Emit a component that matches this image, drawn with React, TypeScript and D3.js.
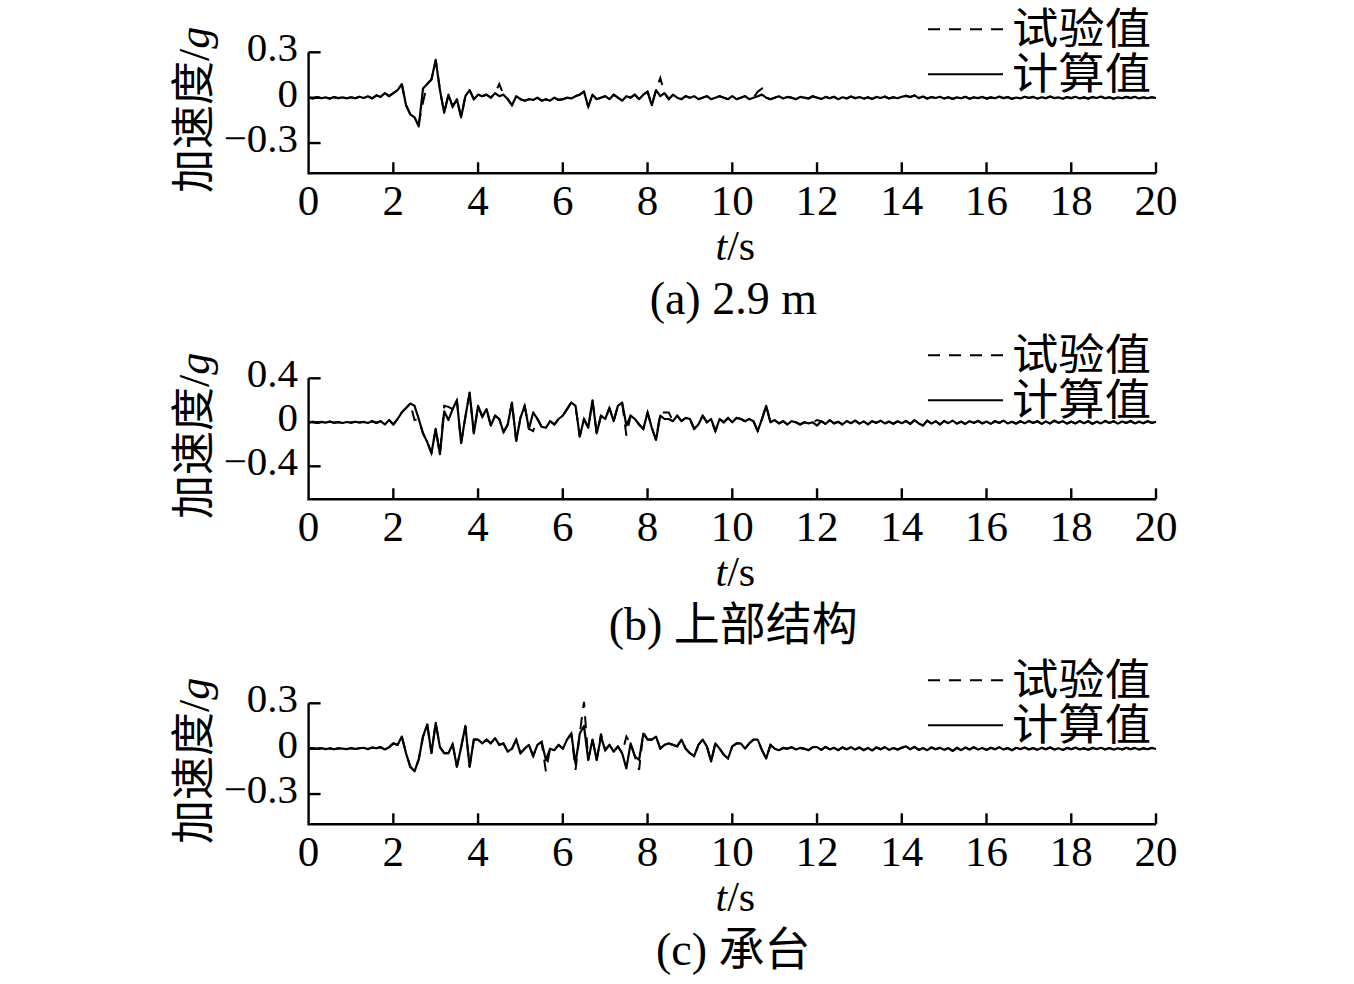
import React from "react";
import * as d3 from "d3";

// sampling step of every series, seconds
const STEP = 0.1;

const X_TICKS = [0, 2, 4, 6, 8, 10, 12, 14, 16, 18, 20];
const Y_TICKS_A = [0.3, 0, -0.3];
const Y_TICKS_B = [0.4, 0, -0.4];
const Y_TICKS_C = [0.3, 0, -0.3];

const LEGEND = ["试验值", "计算值"];
const CAPTIONS = [
  { latin: "(a) 2.9 m", cjk: "" },
  { latin: "(b) ", cjk: "上部结构" },
  { latin: "(c) ", cjk: "承台" },
];

// (a) 2.9 m — calculated
const CALC_A = [
  0, -0.005, 0.003, -0.004, 0.002, -0.006, 0.004, -0.003, 0.002, -0.005,
  0.003, -0.004, 0.006, -0.002, 0.01, -0.005, 0.015, 0.005, 0.03, 0.01,
  0.03, 0.05, 0.09, -0.05, -0.11, -0.13, -0.19, 0.06, 0.09, 0.12,
  0.25, 0.05, -0.1, 0.02, -0.06, -0.01, -0.13, 0.01, 0.05, -0.01,
  0.02, 0.01, 0.02, 0.0, 0.03, 0.01, 0.02, -0.01, -0.05, 0.01,
  -0.01, -0.02, -0.01, -0.015, 0.0, -0.02, -0.01, -0.02, 0.0, -0.015,
  -0.01, 0.0, -0.005, 0.01, 0.02, 0.04, -0.06, 0.02, -0.01, 0.0,
  0.01, -0.01, 0.02, 0.0, -0.02, 0.01, 0.0, 0.02, -0.01, 0.02,
  0.04, -0.05, 0.05, 0.01, 0.03, -0.01, 0.02, 0.0, -0.01, 0.01,
  0.0, 0.01, -0.01, 0.0, 0.01, -0.01, 0.0, 0.01, 0.0, -0.01,
  0.01, -0.01, 0.0, 0.01, -0.01, 0.0, 0.01, 0.02, 0.0, -0.01,
  0.0, 0.01, -0.005, 0.005, 0.0, -0.01, 0.005, 0.0, -0.005, 0.01,
  0.0, -0.008, 0.005, -0.004, 0.006, -0.01, 0.003, -0.005, 0.008, -0.003,
  0.004, -0.006, 0.002, -0.008, 0.005, -0.002, 0.007, -0.005, 0.003, -0.004,
  0.006, 0.012, 0.004, 0.015, -0.003, 0.008, -0.006, 0.004, -0.002, 0.006,
  -0.005, 0.003, -0.008, 0.002, -0.004, 0.006, -0.007, 0.002, -0.003, 0.005,
  -0.006, 0.002, -0.004, 0.007, -0.003, 0.004, -0.008, 0.001, -0.005, 0.006,
  -0.002, 0.005, -0.006, 0.003, -0.004, 0.008, -0.003, 0.002, -0.007, 0.004,
  -0.003, 0.006, -0.005, 0.002, -0.006, 0.004, -0.002, 0.007, -0.004, 0.003,
  -0.006, 0.002, -0.004, 0.005, -0.003, 0.006, -0.005, 0.002, -0.004, 0.003,
  -0.002,
];

// (a) 2.9 m — test
const TEST_A = [
  0, -0.005, 0.003, -0.004, 0.002, -0.006, 0.004, -0.003, 0.002, -0.005,
  0.003, -0.004, 0.006, -0.002, 0.01, -0.005, 0.015, 0.005, 0.03, 0.01,
  0.03, 0.05, 0.09, -0.05, -0.11, -0.13, -0.17, -0.03, 0.09, 0.12,
  0.25, 0.05, -0.1, 0.02, -0.06, -0.01, -0.13, 0.01, 0.05, -0.01,
  0.02, 0.01, 0.02, 0.0, 0.03, 0.09, 0.02, -0.01, -0.05, 0.01,
  -0.01, -0.02, -0.01, -0.015, 0.0, -0.02, -0.01, -0.02, 0.0, -0.015,
  -0.01, 0.0, -0.005, 0.01, 0.02, 0.04, -0.06, 0.02, -0.01, 0.0,
  0.01, -0.01, 0.02, 0.0, -0.02, 0.01, 0.0, 0.02, -0.01, 0.02,
  0.04, -0.05, 0.05, 0.13, 0.03, -0.01, 0.02, 0.0, -0.01, 0.01,
  0.0, 0.01, -0.01, 0.0, 0.01, -0.01, 0.0, 0.01, 0.0, -0.01,
  0.01, -0.01, 0.0, 0.01, -0.01, 0.0, 0.04, 0.06, 0.0, -0.01,
  0.0, 0.01, -0.005, 0.005, 0.0, -0.01, 0.005, 0.0, -0.005, 0.01,
  0.0, -0.008, 0.005, -0.004, 0.006, -0.01, 0.003, -0.005, 0.008, -0.003,
  0.004, -0.006, 0.002, -0.008, 0.005, -0.002, 0.007, -0.005, 0.003, -0.004,
  0.006, 0.012, 0.004, 0.015, -0.003, 0.008, -0.006, 0.004, -0.002, 0.006,
  -0.005, 0.003, -0.008, 0.002, -0.004, 0.006, -0.007, 0.002, -0.003, 0.005,
  -0.006, 0.002, -0.004, 0.007, -0.003, 0.004, -0.008, 0.001, -0.005, 0.006,
  -0.002, 0.005, -0.006, 0.003, -0.004, 0.008, -0.003, 0.002, -0.007, 0.004,
  -0.003, 0.006, -0.005, 0.002, -0.006, 0.004, -0.002, 0.007, -0.004, 0.003,
  -0.006, 0.002, -0.004, 0.005, -0.003, 0.006, -0.005, 0.002, -0.004, 0.003,
  -0.002,
];

// (b) 上部结构 — calculated
const CALC_B = [
  0, 0.005, -0.005, 0.004, -0.003, 0.006, -0.004, 0.002, -0.006, 0.003,
  -0.003, 0.005, -0.002, 0.004, -0.006, 0.01, -0.005, 0.01, -0.02, 0.02,
  -0.02, 0.03, 0.09, 0.13, 0.17, 0.15, 0.03, -0.1, -0.18, -0.28,
  -0.06, -0.29, 0.1, 0.02, 0.12, 0.2, -0.19, 0.05, 0.27, -0.1,
  0.15, 0.05, 0.12, -0.03, 0.06, 0.03, -0.09, -0.02, 0.18, -0.17,
  0.04, 0.15, -0.06, 0.09, 0.03, -0.04, -0.05, 0.01, -0.02, 0.03,
  0.06, 0.12, 0.18, 0.15, -0.13, 0.03, -0.05, 0.2, -0.1, 0.06,
  0.03, 0.13, 0.01, 0.15, 0.18, -0.03, 0.06, 0.03, -0.02, -0.06,
  0.09, -0.05, -0.16, 0.06, 0.03, 0.03, 0.01, 0.06, 0.01, 0.04,
  0.03, -0.06, -0.02, 0.06, 0.0, 0.03, -0.08, 0.03, 0.0, 0.04,
  0.0, 0.04, 0.03, 0.01, 0.03, 0.01, -0.08, 0.03, 0.15, 0.0,
  0.02, -0.01, 0.01, -0.02, 0.01, 0.0, -0.02, 0.0, -0.01, 0.0,
  -0.03, 0.01, -0.015, 0.02, -0.01, 0.005, -0.02, 0.012, -0.008, 0.015,
  -0.012, 0.008, -0.018, 0.01, -0.005, 0.015, -0.01, 0.006, -0.014, 0.01,
  -0.008, 0.012, -0.015, 0.02, -0.01, -0.03, 0.015, -0.012, 0.01, -0.02,
  0.012, -0.008, 0.015, -0.012, 0.006, -0.015, 0.01, -0.005, 0.012, -0.01,
  0.008, -0.014, 0.01, -0.006, 0.015, -0.01, 0.005, -0.012, 0.01, -0.008,
  0.012, -0.006, 0.01, -0.015, 0.008, -0.01, 0.014, -0.005, 0.01, -0.012,
  0.006, -0.01, 0.012, -0.008, 0.01, -0.014, 0.006, -0.01, 0.012, -0.006,
  0.01, -0.012, 0.008, -0.006, 0.012, -0.01, 0.006, -0.008, 0.01, -0.005,
  0.004,
];

// (b) 上部结构 — test
const TEST_B = [
  0, 0.005, -0.005, 0.004, -0.003, 0.006, -0.004, 0.002, -0.006, 0.003,
  -0.003, 0.005, -0.002, 0.004, -0.006, 0.01, -0.005, 0.01, -0.02, 0.02,
  -0.02, 0.03, 0.09, 0.13, 0.17, 0.02, 0.03, -0.1, -0.18, -0.28,
  -0.06, -0.29, 0.15, 0.14, 0.12, 0.2, -0.19, 0.05, 0.27, -0.1,
  0.15, 0.05, 0.12, -0.03, 0.06, 0.03, -0.09, -0.02, 0.18, -0.17,
  0.04, 0.15, -0.06, -0.08, 0.03, -0.04, -0.05, 0.01, -0.02, 0.03,
  0.06, 0.12, 0.18, 0.15, -0.13, 0.03, -0.05, 0.2, -0.1, 0.06,
  0.03, 0.13, 0.01, 0.15, 0.18, -0.12, 0.06, 0.03, -0.02, -0.06,
  0.09, -0.05, -0.16, 0.09, 0.09, 0.09, 0.01, 0.06, 0.01, 0.04,
  0.03, -0.06, -0.02, 0.06, 0.0, 0.03, -0.08, 0.03, 0.0, 0.04,
  0.0, 0.04, 0.03, 0.01, 0.03, 0.01, -0.08, 0.03, 0.15, 0.0,
  0.02, -0.01, 0.01, -0.02, 0.01, 0.0, -0.02, 0.0, -0.01, 0.0,
  0.02, 0.01, -0.015, 0.02, -0.01, 0.005, -0.02, 0.012, -0.008, 0.015,
  -0.012, 0.008, -0.018, 0.01, -0.005, 0.015, -0.01, 0.006, -0.014, 0.01,
  -0.008, 0.012, -0.015, 0.02, -0.01, -0.03, 0.015, -0.012, 0.01, -0.02,
  0.012, -0.008, 0.015, -0.012, 0.006, -0.015, 0.01, -0.005, 0.012, -0.01,
  0.008, -0.014, 0.01, -0.006, 0.015, -0.01, 0.005, -0.012, 0.01, -0.008,
  0.012, -0.006, 0.01, -0.015, 0.008, -0.01, 0.014, -0.005, 0.01, -0.012,
  0.006, -0.01, 0.012, -0.008, 0.01, -0.014, 0.006, -0.01, 0.012, -0.006,
  0.01, -0.012, 0.008, -0.006, 0.012, -0.01, 0.006, -0.008, 0.01, -0.005,
  0.004,
];

// (c) 承台 — calculated
const CALC_C = [
  0, 0.003, -0.002, 0.004, -0.003, 0.002, -0.004, 0.003, 0.0, -0.003,
  0.004, -0.002, 0.003, 0.006, -0.003, 0.008, 0.003, 0.01, -0.005, 0.01,
  0.035, 0.025, 0.08, -0.03, -0.12, -0.15, -0.07, 0.08, 0.16, -0.03,
  0.17, 0.01, -0.03, -0.03, 0.03, -0.12, 0.01, 0.15, -0.12, 0.06,
  0.06, 0.035, 0.06, 0.035, 0.07, 0.025, 0.035, -0.02, 0.0, 0.06,
  -0.03, 0.0, 0.025, -0.05, 0.025, 0.045, -0.075, 0.0, -0.01, 0.025,
  0.0, 0.06, 0.1, -0.1, 0.1, 0.15, -0.075, 0.06, -0.075, 0.08,
  -0.01, 0.025, -0.02, 0.015, -0.03, -0.13, 0.035, -0.05, -0.075, 0.1,
  0.06, 0.06, 0.08, 0.0, 0.025, 0.035, 0.025, 0.015, 0.06, 0.0,
  -0.03, -0.05, 0.025, 0.06, 0.015, -0.085, 0.035, 0.0, -0.04, -0.065,
  0.015, 0.035, 0.035, 0.0, 0.035, 0.06, 0.06, -0.01, -0.065, 0.025,
  0.0, -0.01, 0.005, 0.0, 0.01, -0.005, 0.005, 0.0, -0.01, 0.01,
  0.01, -0.008, 0.012, -0.005, 0.006, -0.01, 0.008, -0.004, 0.01, -0.006,
  0.008, -0.01, 0.005, -0.012, 0.008, -0.004, 0.01, -0.008, 0.004, -0.006,
  0.006, 0.015, -0.004, 0.012, -0.008, 0.005, -0.01, 0.008, -0.004, 0.006,
  -0.008, 0.004, -0.015, 0.006, -0.01, 0.008, -0.005, 0.01, -0.006, 0.004,
  -0.008, 0.006, -0.004, 0.01, -0.006, 0.004, -0.01, 0.006, -0.003, 0.008,
  -0.005, 0.004, -0.008, 0.006, -0.004, 0.008, -0.006, 0.003, -0.008, 0.005,
  -0.004, 0.007, -0.005, 0.003, -0.007, 0.005, -0.003, 0.006, -0.005, 0.004,
  -0.006, 0.003, -0.005, 0.006, -0.004, 0.005, -0.006, 0.003, -0.004, 0.005,
  -0.002,
];

// (c) 承台 — test
const TEST_C = [
  0, 0.003, -0.002, 0.004, -0.003, 0.002, -0.004, 0.003, 0.0, -0.003,
  0.004, -0.002, 0.003, 0.006, -0.003, 0.008, 0.003, 0.01, -0.005, 0.01,
  0.035, 0.025, 0.08, -0.03, -0.12, -0.15, -0.07, 0.08, 0.16, -0.03,
  0.17, 0.01, -0.03, -0.03, 0.03, -0.12, 0.01, 0.15, -0.12, 0.06,
  0.06, 0.035, 0.06, 0.035, 0.07, 0.025, 0.035, -0.02, 0.0, 0.06,
  -0.03, 0.0, 0.025, -0.05, 0.025, 0.045, -0.15, 0.0, -0.01, 0.025,
  0.0, 0.06, 0.1, -0.14, 0.1, 0.31, -0.075, 0.06, -0.075, 0.1,
  -0.01, 0.025, -0.02, 0.015, -0.03, 0.08, 0.035, -0.05, -0.14, 0.11,
  0.06, 0.06, 0.08, 0.0, 0.025, 0.035, 0.025, 0.015, 0.06, 0.0,
  -0.03, -0.05, 0.025, 0.06, 0.015, -0.085, 0.035, 0.0, -0.04, -0.065,
  0.015, 0.035, 0.035, 0.0, 0.035, 0.06, 0.06, -0.01, -0.065, 0.025,
  0.0, -0.01, 0.005, 0.0, 0.01, -0.005, 0.005, 0.0, -0.01, 0.01,
  0.01, -0.008, 0.012, -0.005, 0.006, -0.01, 0.008, -0.004, 0.01, -0.006,
  0.008, -0.01, 0.005, -0.012, 0.008, -0.004, 0.01, -0.008, 0.004, -0.006,
  0.006, 0.015, -0.004, 0.012, -0.008, 0.005, -0.01, 0.008, -0.004, 0.006,
  -0.008, 0.004, -0.015, 0.006, -0.01, 0.008, -0.005, 0.01, -0.006, 0.004,
  -0.008, 0.006, -0.004, 0.01, -0.006, 0.004, -0.01, 0.006, -0.003, 0.008,
  -0.005, 0.004, -0.008, 0.006, -0.004, 0.008, -0.006, 0.003, -0.008, 0.005,
  -0.004, 0.007, -0.005, 0.003, -0.007, 0.005, -0.003, 0.006, -0.005, 0.004,
  -0.006, 0.003, -0.005, 0.006, -0.004, 0.005, -0.006, 0.003, -0.004, 0.005,
  -0.002,
];

const W = 1354;
const H = 984;
const X0 = 308.6;
const X1 = 1156;
const SERIF = "'Liberation Serif', 'Times New Roman', serif";
const CJK = "'Noto Sans CJK SC', sans-serif";

const PANELS = [
  { calc: CALC_A, test: TEST_A, domain: [-0.5, 0.3], ticks: Y_TICKS_A, bottom: 173.3, cap: CAPTIONS[0] },
  { calc: CALC_B, test: TEST_B, domain: [-0.7, 0.4], ticks: Y_TICKS_B, bottom: 499.3, cap: CAPTIONS[1] },
  { calc: CALC_C, test: TEST_C, domain: [-0.5, 0.3], ticks: Y_TICKS_C, bottom: 824.3, cap: CAPTIONS[2] },
];

const fmt = (v: number) => (v === 0 ? "0" : v < 0 ? "\u2212" + Math.abs(v).toFixed(1) : v.toFixed(1));

function Panel({ p }: { p: (typeof PANELS)[number] }) {
  const x = d3.scaleLinear().domain([0, 20]).range([X0, X1]);
  const top = p.bottom - 121;
  const y = d3.scaleLinear().domain(p.domain).range([p.bottom, top]);
  const line = d3
    .line<number>()
    .x((_, i) => x(i * STEP))
    .y((d) => y(d));
  const mid = (top + p.bottom) / 2;
  const legY1 = p.bottom - 144;
  const legY2 = p.bottom - 99;
  const cx = (X0 + X1) / 2;
  return (
    <g>
      <path d={line(p.test) || ""} fill="none" stroke="#000" strokeWidth={2} strokeDasharray="12 9" />
      <path d={line(p.calc) || ""} fill="none" stroke="#000" strokeWidth={2.2} strokeLinejoin="round" />
      <path d={`M${X0},${top}V${p.bottom}H${X1}`} fill="none" stroke="#000" strokeWidth={2.4} />
      {p.ticks.map((t) => (
        <g key={"y" + t}>
          <line x1={X0} x2={X0 + 12} y1={y(t)} y2={y(t)} stroke="#000" strokeWidth={2.4} />
          <text x={298} y={y(t) + 9} textAnchor="end" fontFamily={SERIF} fontSize={41}>
            {fmt(t)}
          </text>
        </g>
      ))}
      {X_TICKS.map((t) => (
        <g key={"x" + t}>
          {t > 0 && <line x1={x(t)} x2={x(t)} y1={p.bottom} y2={p.bottom - 11} stroke="#000" strokeWidth={2.4} />}
          <text x={x(t)} y={p.bottom + 42} textAnchor="middle" fontFamily={SERIF} fontSize={43}>
            {t}
          </text>
        </g>
      ))}
      <text x={cx + 3} y={p.bottom + 87} textAnchor="middle" fontFamily={SERIF} fontSize={42}>
        <tspan fontStyle="italic">t</tspan>/s
      </text>
      <text x={cx + 1} y={p.bottom + 141} textAnchor="middle" fontFamily={SERIF} fontSize={46}>
        {p.cap.latin}
        {p.cap.cjk && <tspan fontFamily={CJK}>{p.cap.cjk}</tspan>}
      </text>
      <text
        transform={`translate(209,${mid - 3}) rotate(-90)`}
        textAnchor="middle"
        fontSize={44}
        fontFamily={CJK}
      >
        加速度
        <tspan fontFamily={SERIF}>/</tspan>
        <tspan fontFamily={SERIF} fontStyle="italic">g</tspan>
      </text>
      <line x1={928} x2={1003} y1={legY1} y2={legY1} stroke="#000" strokeWidth={2} strokeDasharray="12 9" />
      <line x1={928} x2={1003} y1={legY2} y2={legY2} stroke="#000" strokeWidth={2} />
      <text x={1012} y={legY1 - 4} dominantBaseline="central" fontFamily={CJK} fontSize={43} textLength={139} lengthAdjust="spacingAndGlyphs">
        {LEGEND[0]}
      </text>
      <text x={1012} y={legY2 - 4} dominantBaseline="central" fontFamily={CJK} fontSize={43} textLength={139} lengthAdjust="spacingAndGlyphs">
        {LEGEND[1]}
      </text>
    </g>
  );
}

export default function App() {
  return (
    <svg
      width={W}
      height={H}
      viewBox={`0 0 ${W} ${H}`}
      style={{ position: "absolute", left: 0, top: 0, background: "#fff" }}
    >
      <rect width={W} height={H} fill="#fff" />
      {PANELS.map((p, i) => (
        <Panel key={i} p={p} />
      ))}
    </svg>
  );
}
